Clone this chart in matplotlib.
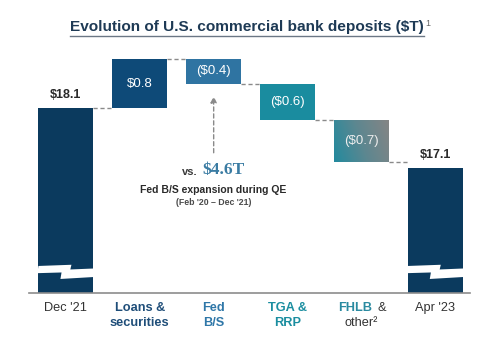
import numpy as np
import matplotlib.pyplot as plt
from matplotlib.colors import LinearSegmentedColormap
from matplotlib.patches import Polygon

plt.rcParams['font.family'] = ['Liberation Sans', 'DejaVu Sans']

# deposits, $T
start_total = 18.1
end_total = 17.1
changes = [0.8, -0.4, -0.6, -0.7]
change_labels = ['$0.8', '($0.4)', '($0.6)', '($0.7)']
total_labels = ['$18.1', '$17.1']
categories = ["Dec '21", 'Loans &\nsecurities', 'Fed\nB/S', 'TGA &\nRRP', 'FHLB & other²', "Apr '23"]
qe_expansion = 4.6

navy = '#0b3a5e'
change_colors = ['#0e4a78', '#2f74a2', '#1a8c9f', None]
cat_colors = ['#333333', '#1f4e79', '#2f77a8', '#1b8ea0', '#2a8aa0', '#333333']
cat_weights = ['normal', 'bold', 'bold', 'bold', 'bold', 'normal']

fig = plt.figure(figsize=(5, 3.48), dpi=100)
ax = fig.add_axes([0.058, 0.159, 0.882, 0.697])
ymin, ymax = 15.047, 19.052
ax.set_xlim(-0.5, 5.47)
ax.set_ylim(ymin, ymax)
w = 0.744

# pixel scale, used for the axis-break shapes
px_y = (ymax - ymin) / (0.697 * 348)

# totals
ax.bar(0, start_total, width=w, color=navy, zorder=2)
ax.bar(5, end_total, width=w, color=navy, zorder=2)

# waterfall steps
level = start_total
levels = [level]
for i, (c, lab) in enumerate(zip(changes, change_labels)):
    x = i + 1
    bottom = level if c > 0 else level + c
    if change_colors[i] is not None:
        ax.bar(x, abs(c), bottom=bottom, width=w, color=change_colors[i], zorder=2)
        txt_color = 'white'
    else:
        # teal to grey gradient bar
        bars = ax.bar(x, abs(c), bottom=bottom, width=w, color='none', zorder=2)
        cmap = LinearSegmentedColormap.from_list('tg', ['#238a9e', '#5d8790', '#858585'])
        gx, gy = np.meshgrid(np.linspace(0, 1, 60), np.linspace(0, 1, 40))
        grad = 0.8 * gx + 0.2 * gy
        im = ax.imshow(grad, cmap=cmap, aspect='auto', zorder=2,
                       extent=[x - w / 2, x + w / 2, bottom + abs(c), bottom])
        im.set_clip_path(bars[0])
        txt_color = '#eeeeee'
    ax.text(x, bottom + abs(c) / 2, lab, ha='center', va='center',
            color=txt_color, fontsize=9.5, zorder=3)
    level += c
    levels.append(level)

# dashed connectors between bars
for i, lv in enumerate(levels):
    ax.plot([i + w / 2, i + 1 - w / 2], [lv, lv], color='#8a8a8a',
            lw=1.0, ls=(0, (3, 2)), zorder=1)

# total labels
ax.text(0, start_total + 7 * px_y, total_labels[0], ha='center', va='bottom',
        fontsize=9, fontweight='bold', color='#2a2a2a')
ax.text(5, end_total + 7 * px_y, total_labels[1], ha='center', va='bottom',
        fontsize=9, fontweight='bold', color='#2a2a2a')

# axis break marks on the total bars
brk = ymin + 21.7 * px_y
shape = [(0, -5), (0.6, -6.2), (0.58, -1.5), (1.02, -2.5),
         (1.02, 6), (0.4, 8), (0.42, 1.5), (-0.02, 2.2)]
for x in (0, 5):
    pts = [(x - w / 2 + fx * w, brk - dy * px_y) for fx, dy in shape]
    ax.add_patch(Polygon(pts, closed=True, color='white', lw=0, zorder=3))

# QE annotation
fed_bottom = levels[2]
ax.annotate('', xy=(2, fed_bottom - 10 * px_y), xytext=(2, fed_bottom - 72 * px_y),
            arrowprops=dict(arrowstyle='-|>', color='#8a8a8a', lw=1.0,
                            ls=(0, (3, 2)), mutation_scale=9))
ax.text(2 - 0.22, fed_bottom - 88 * px_y, 'vs.', ha='right', va='center',
        fontsize=8, fontweight='bold', color='#3a3a3a')
ax.text(2 - 0.15, fed_bottom - 86.5 * px_y, f'${qe_expansion}T', ha='left', va='center',
        fontsize=12.5, fontweight='bold', color='#3b7ca3',
        family=['Liberation Serif', 'DejaVu Serif'])
ax.text(2, fed_bottom - 106 * px_y, 'Fed B/S expansion during QE', ha='center',
        va='center', fontsize=7.5, fontweight='bold', color='#2a2a2a')
ax.text(2, fed_bottom - 119 * px_y, "(Feb '20 – Dec '21)", ha='center',
        va='center', fontsize=6.3, fontweight='bold', color='#4a4a4a')

# category labels
for i, (cat, col, wt) in enumerate(zip(categories, cat_colors, cat_weights)):
    if i == 4:
        ax.annotate('FHLB', xy=(i, 0), xycoords=('data', 'axes fraction'),
                    xytext=(8.0, -11), textcoords='offset points', ha='right',
                    va='center', fontsize=9.2, fontweight='bold', color=col)
        ax.annotate('&', xy=(i, 0), xycoords=('data', 'axes fraction'),
                    xytext=(11.5, -11), textcoords='offset points', ha='left',
                    va='center', fontsize=9.2, color='#333333')
        ax.annotate('other²', xy=(i, 0), xycoords=('data', 'axes fraction'),
                    xytext=(0, -22), textcoords='offset points', ha='center',
                    va='center', fontsize=9.2, color='#333333')
        continue
    lines = cat.split('\n')
    for j, line in enumerate(lines):
        ax.annotate(line, xy=(i, 0), xycoords=('data', 'axes fraction'),
                    xytext=(0, -11 - 11 * j), textcoords='offset points',
                    ha='center', va='center', fontsize=9.2, fontweight=wt, color=col)

for s in ['top', 'right', 'left']:
    ax.spines[s].set_visible(False)
ax.spines['bottom'].set_color('#8c8c8c')
ax.spines['bottom'].set_linewidth(1.2)
ax.set_xticks([])
ax.set_yticks([])

# title with underline and footnote marker
title = fig.text(0.494, 0.922, 'Evolution of U.S. commercial bank deposits ($T)',
                 ha='center', va='center', fontsize=11.1, fontweight='bold',
                 color='#1e3a55')
fig.canvas.draw()
bb = title.get_window_extent().transformed(fig.transFigure.inverted())
fig.add_artist(plt.Line2D([bb.x0, bb.x1], [bb.y0 - 0.004, bb.y0 - 0.004],
                          color='#6b7785', lw=1.0))
fig.text(bb.x1 + 0.002, 0.933, '1', ha='left', va='center', fontsize=6.5,
         color='#666666')

fig.savefig('out.png', dpi=100)
